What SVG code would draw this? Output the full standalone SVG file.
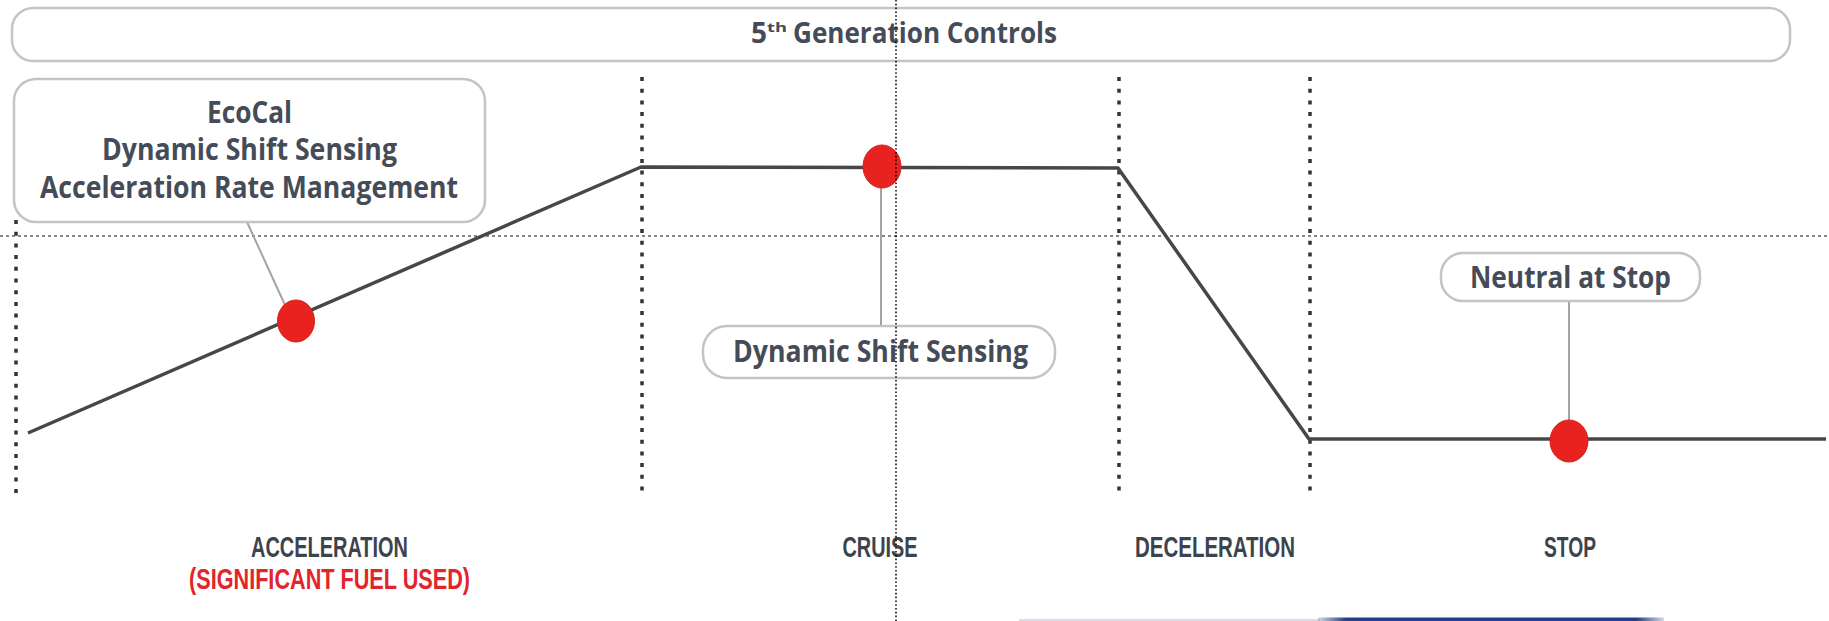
<svg xmlns="http://www.w3.org/2000/svg" width="1829" height="621" viewBox="0 0 1829 621">
<style>
.box{fill:#fff;stroke:#c4c4c4;stroke-width:2.5}
.lbl{font-family:"Open Sans","Liberation Sans",sans-serif;font-weight:700;fill:#454c57;text-anchor:middle}
.phase{font-family:"Liberation Sans","DejaVu Sans",sans-serif;font-weight:bold;font-size:29px;fill:#3d434c;text-anchor:middle}
.red{fill:#e3242b}
.dot{fill:#e8231f;stroke:#d81d1a;stroke-width:1}
.vdot{stroke:#333;stroke-width:3.5;stroke-dasharray:4 7.7;fill:none}
.callout{stroke:#a3a3a3;stroke-width:2;fill:none}
</style>
<defs>
<linearGradient id="navy" x1="0" x2="1" y1="0" y2="0">
<stop offset="0" stop-color="#223f8a" stop-opacity="0.2"/>
<stop offset="0.08" stop-color="#223f8a"/>
<stop offset="0.92" stop-color="#223f8a"/>
<stop offset="1" stop-color="#223f8a" stop-opacity="0.2"/>
</linearGradient>
</defs>
<rect width="1829" height="621" fill="#fff"/>

<g id="guides">
<line class="vdot" x1="16" y1="220" x2="16" y2="498"/>
<line class="vdot" x1="642" y1="77" x2="642" y2="498"/>
<line class="vdot" x1="1119" y1="77" x2="1119" y2="498"/>
<line class="vdot" x1="1310" y1="77" x2="1310" y2="498"/>
<line x1="0" y1="236" x2="1829" y2="236" stroke="#444" stroke-width="1.6" stroke-dasharray="3 3" opacity="0.85"/>
</g>

<g id="title">
<rect class="box" x="12" y="8" width="1778" height="53" rx="21"/>
<text class="lbl" x="759" y="43" font-size="28">5</text>
<text class="lbl" x="777" y="32" font-size="13" textLength="20" lengthAdjust="spacingAndGlyphs">th</text>
<text class="lbl" x="925" y="43" font-size="29" textLength="264" lengthAdjust="spacingAndGlyphs">Generation Controls</text>
</g>

<g id="connectors">
<polyline points="28,433 641,167 1118,168 1309,439 1826,439" fill="none" stroke="#474747" stroke-width="3.5" stroke-linejoin="round"/>
<line class="callout" x1="247" y1="222" x2="285" y2="305"/>
<line class="callout" x1="881" y1="186" x2="881" y2="326"/>
<line class="callout" x1="1569" y1="301" x2="1569" y2="422"/>
</g>

<g id="ecocal">
<rect class="box" x="14" y="79" width="471" height="143" rx="22"/>
<text class="lbl" x="249.5" y="123" font-size="30" textLength="85" lengthAdjust="spacingAndGlyphs">EcoCal</text>
<text class="lbl" x="249.5" y="160" font-size="30" textLength="295" lengthAdjust="spacingAndGlyphs">Dynamic Shift Sensing</text>
<text class="lbl" x="249" y="198" font-size="30" textLength="418" lengthAdjust="spacingAndGlyphs">Acceleration Rate Management</text>
</g>

<g id="cruise-label">
<rect class="box" x="703" y="326" width="352" height="52" rx="24"/>
<text class="lbl" x="880.5" y="362" font-size="30" textLength="295" lengthAdjust="spacingAndGlyphs">Dynamic Shift Sensing</text>
</g>

<g id="neutral-label">
<rect class="box" x="1441" y="253" width="259" height="48" rx="22"/>
<text class="lbl" x="1570.5" y="288" font-size="30" textLength="201" lengthAdjust="spacingAndGlyphs">Neutral at Stop</text>
</g>

<g id="dot-acceleration"><ellipse class="dot" cx="296" cy="321" rx="18.5" ry="21"/></g>
<g id="dot-cruise"><ellipse class="dot" cx="882" cy="166.5" rx="19" ry="21.5"/></g>
<g id="dot-stop"><ellipse class="dot" cx="1569" cy="441" rx="19" ry="21"/></g>

<g id="phase-acceleration">
<text class="phase" x="329.5" y="557" textLength="157" lengthAdjust="spacingAndGlyphs">ACCELERATION</text>
<text class="phase red" x="329.5" y="589" textLength="281" lengthAdjust="spacingAndGlyphs">(SIGNIFICANT FUEL USED)</text>
</g>
<g id="phase-cruise"><text class="phase" x="880" y="557" textLength="75" lengthAdjust="spacingAndGlyphs">CRUISE</text></g>
<g id="phase-deceleration"><text class="phase" x="1215" y="557" textLength="160" lengthAdjust="spacingAndGlyphs">DECELERATION</text></g>
<g id="phase-stop"><text class="phase" x="1570" y="557" textLength="52" lengthAdjust="spacingAndGlyphs">STOP</text></g>

<g id="crosshair">
<line x1="896" y1="0" x2="896" y2="621" stroke="#000" stroke-width="1.5" stroke-dasharray="1.6 2.2"/>
</g>

<g id="bottom-edge">
<line x1="1019" y1="620" x2="1320" y2="620" stroke="#d9dce3" stroke-width="2"/>
<rect x="1318" y="617.5" width="346" height="4" fill="url(#navy)"/>
</g>
</svg>
